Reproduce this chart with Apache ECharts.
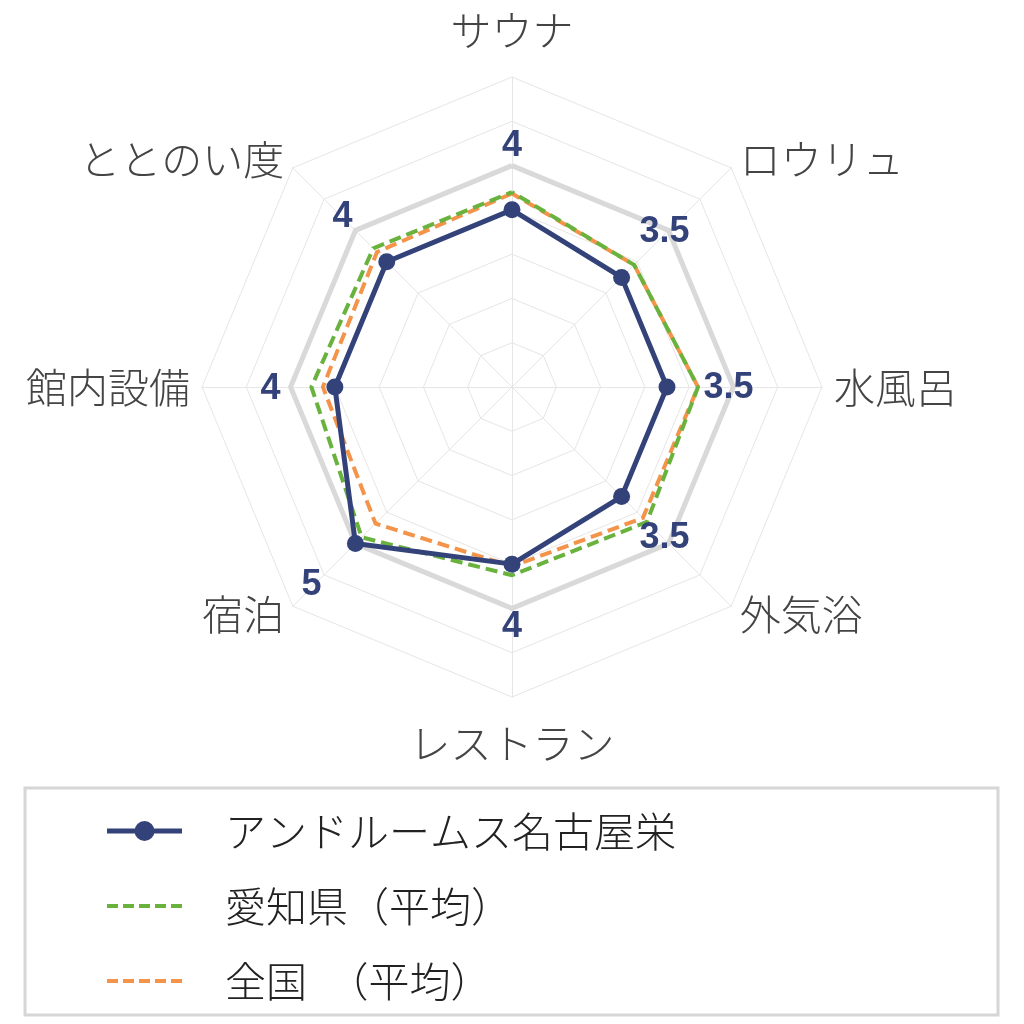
<!DOCTYPE html>
<html>
<head>
<meta charset="utf-8">
<script src="https://cdn.jsdelivr.net/npm/echarts@6/dist/echarts.min.js"></script>
<style>
html, body { margin: 0; padding: 0; background: #fff; }
#main { width: 1024px; height: 1024px; }
</style>
</head>
<body>
<div id="main"></div>
<script>
// indicator order as ECharts lays them out (counter-clockwise from the top)
var categories = ['サウナ', 'ととのい度', '館内設備', '宿泊', 'レストラン', '外気浴', '水風呂', 'ロウリュ'];
var facility = [4, 4, 4, 5, 4, 3.5, 3.5, 3.5];
var aichiAvg = [4.4, 4.43, 4.53, 4.8, 4.25, 4.31, 4.2, 3.9];
var nationalAvg = [4.37, 4.31, 4.27, 4.36, 4.05, 4.18, 4.2, 3.9];
var fullScore = [5, 5, 5, 5, 5, 5, 5, 5];
var seriesNames = ['アンドルームス名古屋栄', '愛知県（平均）', '全国　（平均）'];
var scaleMax = 7;

var NAVY = '#34427a', GREEN = '#6ab23e', ORANGE = '#f4944a';
var GRID = '#e6e6e6';
var JP = '"Noto Sans CJK JP", "Noto Sans", sans-serif';

// where each score label sits relative to the full-score ring vertex
var labelOffsets = [[0, -19], [-13, -13], [-20, 2], [-44, 42], [0, 19], [-4, -5], [-5, 1], [-4, 2]];

var chart = echarts.init(document.getElementById('main'), null, { renderer: 'canvas' });

var labelItems = categories.map(function (c, i) {
    return {
        value: categories.map(function (_, j) { return j === i ? fullScore[j] : 0; }),
        label: { offset: labelOffsets[i] }
    };
});

var nameStyle = { 0: 'top', 4: 'bottom' };
var nameFont = { fontSize: 41, fontFamily: JP, fontWeight: 300, color: '#444' };

var option = {
    animation: false,
    backgroundColor: '#fff',
    radar: {
        center: [512, 387],
        radius: 310,
        startAngle: 90,
        splitNumber: 7,
        shape: 'polygon',
        nameGap: 12,
        indicator: categories.map(function (c) { return { name: c, min: 0, max: scaleMax }; }),
        axisName: {
            color: '#444',
            fontSize: 41,
            fontFamily: JP,
            fontWeight: 300,
            formatter: function (name) {
                var i = categories.indexOf(name);
                var k = nameStyle[i] || 'n';
                return '{' + k + '|' + name + '}';
            },
            rich: {
                n: nameFont,
                top: Object.assign({ padding: [0, 0, 14, 0] }, nameFont),
                bottom: Object.assign({ padding: [14, 0, 0, 0] }, nameFont)
            }
        },
        splitLine: { lineStyle: { color: GRID, width: 1 } },
        splitArea: { show: false },
        axisLine: { lineStyle: { color: GRID, width: 1 } },
        axisTick: { show: false },
        axisLabel: { show: false }
    },
    legend: {
        orient: 'vertical',
        left: 107,
        top: 810,
        padding: 0,
        itemWidth: 75,
        itemHeight: 20,
        itemGap: 33,
        symbolKeepAspect: true,
        selectedMode: false,
        itemStyle: { borderWidth: 0 },
        textStyle: {
            fontSize: 41,
            fontFamily: JP,
            fontWeight: 300,
            color: '#222',
            lineHeight: 42,
            padding: [0, 0, 0, 38]
        },
        data: [
            { name: seriesNames[0], icon: 'path://M0,8H75V13H0Z M27.5,10.5A10,10 0 0,1 47.5,10.5A10,10 0 0,1 27.5,10.5Z' },
            { name: seriesNames[1], icon: 'path://M0,0h11v4h-11z M16,0h11v4h-11z M32,0h11v4h-11z M48,0h11v4h-11z M64,0h11v4h-11z' },
            { name: seriesNames[2], icon: 'path://M0,0h11v4h-11z M16,0h11v4h-11z M32,0h11v4h-11z M48,0h11v4h-11z M64,0h11v4h-11z' }
        ]
    },
    graphic: [{
        type: 'rect',
        shape: { x: 25, y: 788, width: 973, height: 227 },
        style: { fill: 'none', stroke: '#d6d6d6', lineWidth: 3 },
        silent: true
    }],
    series: [
        {
            name: 'full',
            type: 'radar',
            silent: true,
            symbol: 'none',
            lineStyle: { color: '#d9d9d9', width: 5 },
            data: [{ value: fullScore }]
        },
        {
            name: seriesNames[2],
            type: 'radar',
            symbol: 'none',
            itemStyle: { color: ORANGE },
            lineStyle: { color: ORANGE, width: 4, type: [12, 6] },
            data: [{ name: seriesNames[2], value: nationalAvg }]
        },
        {
            name: seriesNames[1],
            type: 'radar',
            symbol: 'none',
            itemStyle: { color: GREEN },
            lineStyle: { color: GREEN, width: 4, type: [12, 6], dashOffset: 6 },
            data: [{ name: seriesNames[1], value: aichiAvg }]
        },
        {
            name: seriesNames[0],
            type: 'radar',
            symbol: 'circle',
            symbolSize: 17,
            itemStyle: { color: NAVY },
            lineStyle: { color: NAVY, width: 5 },
            data: [{ name: seriesNames[0], value: facility }]
        },
        {
            name: 'scoreLabels',
            type: 'radar',
            silent: true,
            symbol: 'circle',
            symbolSize: 1,
            itemStyle: { color: 'rgba(0,0,0,0)' },
            lineStyle: { width: 0, opacity: 0 },
            label: {
                show: true,
                position: 'inside',
                color: NAVY,
                fontSize: 36,
                fontWeight: 'bold',
                fontFamily: '"Liberation Sans", Arial, sans-serif',
                formatter: function (p) {
                    return p.value > 0 ? String(facility[p.dataIndex]) : '';
                }
            },
            data: labelItems
        }
    ]
};

chart.setOption(option);
</script>
</body>
</html>
